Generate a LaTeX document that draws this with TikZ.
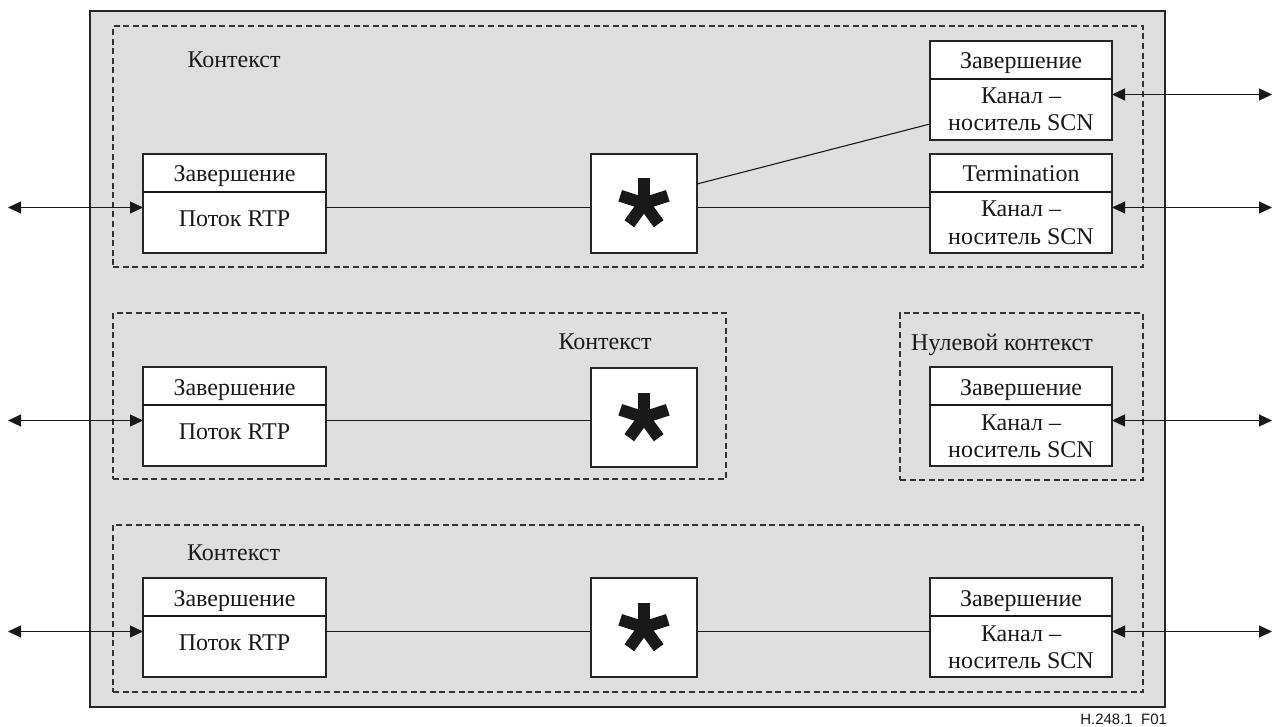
\documentclass[tikz,border=0pt]{standalone}
\usepackage{fontspec}
\setmainfont{Liberation Serif}
\newfontfamily\labelsans{Liberation Sans}
\usetikzlibrary{arrows.meta,calc}

\begin{document}
\begin{tikzpicture}[x=1pt,y=-1pt,
  every node/.style={inner sep=0pt, outer sep=0pt},
  panel/.style={draw=black!85, line width=1.4pt, fill=black!13},
  ctxbox/.style={draw=black!80, line width=1.1pt, dash pattern=on 6pt off 3.6pt, minimum width=1pt, minimum height=1pt, anchor=north west},
  termbox/.style={draw=black!85, line width=1.2pt, fill=white, minimum height=99pt, anchor=north west},
  starbox/.style={draw=black!85, line width=1.2pt, fill=white, minimum width=106pt, minimum height=99pt, anchor=north west},
  txt/.style={font=\fontsize{24pt}{28pt}\selectfont, anchor=base, text=black!90},
  wire/.style={draw=black!90, line width=1.1pt},
  biarrow/.style={wire, {Triangle[length=13pt,width=12pt]}-{Triangle[length=13pt,width=12pt]}},
  arm/.style={line width=12pt, draw=black!90},
]
\fill[white] (0,0) rectangle (1273,727);
\useasboundingbox (0,0) rectangle (1273,727);

% outer gateway frame
\node[panel, minimum width=1075pt, minimum height=696pt, anchor=north west] (panel) at (90,11) {};

% contexts
\node[ctxbox, minimum width=1030pt, minimum height=241pt] (c1) at (113,26) {};
\node[ctxbox, minimum width=613pt,  minimum height=166pt] (c2) at (113,313) {};
\node[ctxbox, minimum width=243pt,  minimum height=167pt] (c0) at (900,313) {};
\node[ctxbox, minimum width=1030pt, minimum height=167pt] (c3) at (113,525) {};

\node[txt] (c1l) at (234,68) {Контекст};
\node[txt] (c2l) at (605,349) {Контекст};
\node[txt] (c0l) at (1002,350) {Нулевой контекст};
\node[txt] (c3l) at (233.5,560) {Контекст};

% terminations
\node[termbox, minimum width=183pt] (t1) at (143,154) {};
\node[termbox, minimum width=182pt] (r1) at (930,41) {};
\node[termbox, minimum width=182pt] (r2) at (930,154) {};
\node[termbox, minimum width=183pt] (t2) at (143,367) {};
\node[termbox, minimum width=182pt] (n1) at (930,367) {};
\node[termbox, minimum width=183pt] (t3) at (143,578) {};
\node[termbox, minimum width=182pt] (r3) at (930,578) {};

\foreach \b in {t1,r1,r2,t2,n1,t3,r3}
  \draw[wire, line width=1.2pt] ($(\b.north west)+(0,38)$) -- ($(\b.north east)+(0,38)$);

% termination labels
\node[txt] (t1h) at ($(t1.north)+(0,28)$) {Завершение};
\node[txt] (t1b) at ($(t1.north)+(0,72)$) {Поток RTP};
\node[txt] (t2h) at ($(t2.north)+(0,28)$) {Завершение};
\node[txt] (t2b) at ($(t2.north)+(0,72)$) {Поток RTP};
\node[txt] (t3h) at ($(t3.north)+(0,28)$) {Завершение};
\node[txt] (t3b) at ($(t3.north)+(0,72)$) {Поток RTP};

\node[txt] (r1h) at ($(r1.north)+(0,28)$) {Завершение};
\node[txt] (r1a) at ($(r1.north)+(0,63)$) {Канал –};
\node[txt] (r1b) at ($(r1.north)+(0,90)$) {носитель SCN};
\node[txt] (r2h) at ($(r2.north)+(0,28)$) {Termination};
\node[txt] (r2a) at ($(r2.north)+(0,63)$) {Канал –};
\node[txt] (r2b) at ($(r2.north)+(0,90)$) {носитель SCN};
\node[txt] (n1h) at ($(n1.north)+(0,28)$) {Завершение};
\node[txt] (n1a) at ($(n1.north)+(0,63)$) {Канал –};
\node[txt] (n1b) at ($(n1.north)+(0,90)$) {носитель SCN};
\node[txt] (r3h) at ($(r3.north)+(0,28)$) {Завершение};
\node[txt] (r3a) at ($(r3.north)+(0,63)$) {Канал –};
\node[txt] (r3b) at ($(r3.north)+(0,90)$) {носитель SCN};

% context cores
\node[starbox] (s1) at (591,154) {};
\node[starbox] (s2) at (591,368) {};
\node[starbox] (s3) at (591,578) {};
\foreach \s in {s1,s2,s3}{
  \foreach \a in {90,18,162,234,306}
    \draw[arm] (\s.center) -- ++(\a:25pt);
  \fill[black!90] (\s.center) circle (6.5pt);
}

% external ends
\coordinate (la1) at (8,207.5);
\coordinate (la2) at (8,420.5);
\coordinate (la3) at (8,631.5);
\coordinate (ra1) at (1272,94.5);
\coordinate (ra2) at (1272,207.5);
\coordinate (ra0) at (1272,420.5);
\coordinate (ra3) at (1272,631.5);

\draw[biarrow] (la1) -- (la1 -| t1.west);
\draw[biarrow] (la2) -- (la2 -| t2.west);
\draw[biarrow] (la3) -- (la3 -| t3.west);
\draw[biarrow] (r1.east |- ra1) -- (ra1);
\draw[biarrow] (r2.east |- ra2) -- (ra2);
\draw[biarrow] (n1.east |- ra0) -- (ra0);
\draw[biarrow] (r3.east |- ra3) -- (ra3);

% internal streams
\draw[wire] (t1.east |- la1) -- (la1 -| s1.west);
\draw[wire] (s1.east |- la1) -- (la1 -| r2.west);
\draw[wire] ($(s1.north east)+(0,30)$) -- ($(r1.north west)+(0,83)$);
\draw[wire] (t2.east |- la2) -- (la2 -| s2.west);
\draw[wire] (t3.east |- la3) -- (la3 -| s3.west);
\draw[wire] (s3.east |- la3) -- (la3 -| r3.west);

\node[font=\labelsans\fontsize{15pt}{18pt}\selectfont, anchor=base east, text=black!90] (fig) at (1167,724) {H.248.1~~F01};
\end{tikzpicture}
\end{document}
